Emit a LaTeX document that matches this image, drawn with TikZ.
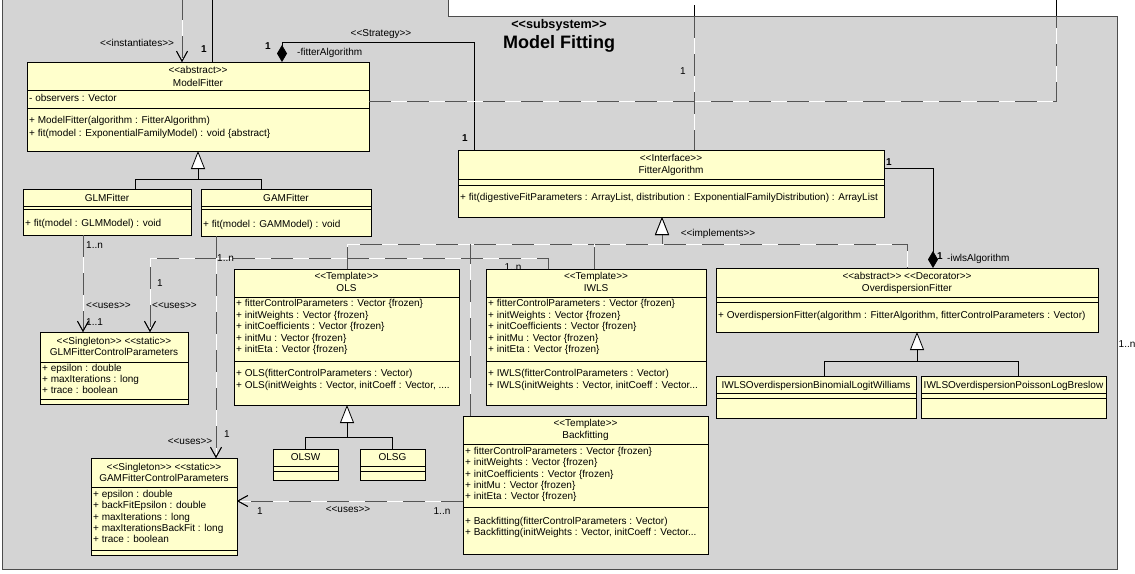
\documentclass[tikz,border=0pt]{standalone}
\usepackage{fontspec}
\setmainfont{Liberation Sans}
\usetikzlibrary{arrows.meta,shadows}
\definecolor{clsfill}{RGB}{255,255,204}
\definecolor{pkgfill}{RGB}{212,212,212}
\definecolor{dashgray}{RGB}{85,85,85}
\newcommand\st[1]{<\kern0pt<#1>\kern0pt>}
\newcommand\clsbox[5]{\node[cls, minimum width={(#4-#2)*1pt}, minimum height={(#5-#3)*1pt}] (#1) at (#2,#3) {};}
\newcommand\csep[2]{\draw[sepline] (#1.west |- 0,#2) -- (#1.east |- 0,#2);}
\newcommand\tL[4]{\node[txt, anchor=west] (#1) at (#2,#3) {#4};}
\newcommand\tC[4]{\node[txt] (#1) at (#2,#3) {#4};}
\begin{document}
\fontsize{10}{12}\selectfont
\begin{tikzpicture}[x=1pt, y=-1pt,
  cls/.style={draw=black, line width=0.8pt, fill=clsfill, anchor=north west, inner sep=0pt, outer sep=0pt,
    general shadow={fill=black!85, shadow xshift=1.2pt, shadow yshift=-1.2pt}},
  sepline/.style={draw=black, line width=0.8pt},
  txt/.style={inner sep=0pt, text height=7pt, text depth=2pt},
  bold/.style={txt, font=\bfseries},
  assoc/.style={draw=black, line width=0.8pt},
  dep/.style={draw=dashgray, line width=0.9pt, dash pattern=on 22pt off 16pt, preaction={draw=white, solid}},
  openv/.tip={Straight Barb[length=10pt, width=11pt, line width=0.8pt, color=black]},
  gentri/.tip={Triangle[length=18pt, width=14pt, color=black, fill=white, line width=0.8pt]},
  compd/.tip={Diamond[length=17pt, width=10pt, color=black, fill=black]},
]
\useasboundingbox (0,0) rectangle (1135,573);
% package
\path[draw=black!70, line width=0.8pt, fill=pkgfill] (2.5,-5) -- (2.5,569.5) -- (1117.5,569.5) -- (1117.5,16) -- (448,16) -- (448,-5) -- cycle;
\node[font=\bfseries\fontsize{12.6}{14}\selectfont, inner sep=0pt] (pkgst) at (559,25) {\st{subsystem}};
\node[font=\bfseries\fontsize{18}{20}\selectfont, inner sep=0pt] (pkgname) at (559,44) {Model Fitting};

% classes
\clsbox{mf}{27}{62}{369}{151}
\clsbox{fa}{458}{150}{884}{217}
\clsbox{glm}{23}{189}{191}{235}
\clsbox{gam}{201}{189}{371}{236}
\clsbox{glmcp}{40}{332}{188}{404}
\clsbox{gamcp}{91}{458}{237}{555}
\clsbox{ols}{234}{269}{459}{405}
\clsbox{iwls}{486}{269}{706}{405}
\clsbox{bf}{463}{416}{708}{554}
\clsbox{olsw}{273}{449}{338}{480}
\clsbox{olsg}{360}{449}{425}{480}
\clsbox{od}{716}{268}{1098}{332}
\clsbox{odb}{716}{376}{916}{418}
\clsbox{odp}{921}{376}{1106}{418}

\csep{mf}{90}\csep{mf}{108}
\csep{fa}{179}\csep{fa}{185}
\csep{glm}{206}\csep{glm}{209}
\csep{gam}{206}\csep{gam}{209}
\csep{glmcp}{362}\csep{glmcp}{399}
\csep{gamcp}{487}\csep{gamcp}{550}
\csep{ols}{297}\csep{ols}{361}
\csep{iwls}{297}\csep{iwls}{361}
\csep{bf}{444}\csep{bf}{507}
\csep{olsw}{466}\csep{olsw}{471}
\csep{olsg}{466}\csep{olsg}{471}
\csep{od}{297}\csep{od}{302}
\csep{odb}{393}\csep{odb}{398}
\csep{odp}{393}\csep{odp}{398}

% class texts
\tC{mfS}{198}{71}{\st{abstract}}
\tC{mfN}{198}{84}{ModelFitter}
\tL{mfA}{29}{99}{- observers : Vector}
\tL{mfM1}{29}{121}{+ ModelFitter(algorithm : FitterAlgorithm)}
\tL{mfM2}{29}{134}{+ fit(model : ExponentialFamilyModel) : void \{abstract\}}

\tC{faS}{671}{159}{\st{Interface}}
\tC{faN}{671}{171}{FitterAlgorithm}
\tL{faM}{460}{198}{+ fit(digestiveFitParameters : ArrayList, distribution : ExponentialFamilyDistribution) : ArrayList}

\tC{glmN}{107}{199}{GLMFitter}
\tL{glmM}{25}{224}{+ fit(model : GLMModel) : void}
\tC{gamN}{286}{199}{GAMFitter}
\tL{gamM}{203}{225}{+ fit(model : GAMModel) : void}

\tC{glmcpS}{114}{342}{\st{Singleton} \st{static}}
\tC{glmcpN}{114}{353}{GLMFitterControlParameters}
\tL{glmcpA1}{42}{369}{+ epsilon : double}
\tL{glmcpA2}{42}{380}{+ maxIterations : long}
\tL{glmcpA3}{42}{391}{+ trace : boolean}

\tC{gamcpS}{164}{468}{\st{Singleton} \st{static}}
\tC{gamcpN}{164}{479}{GAMFitterControlParameters}
\tL{gamcpA1}{93}{495}{+ epsilon : double}
\tL{gamcpA2}{93}{506}{+ backFitEpsilon : double}
\tL{gamcpA3}{93}{518}{+ maxIterations : long}
\tL{gamcpA4}{93}{529}{+ maxIterationsBackFit : long}
\tL{gamcpA5}{93}{540}{+ trace : boolean}

\tC{olsS}{346.5}{277}{\st{Template}}
\tC{olsN}{346.5}{289}{OLS}
\tL{olsA1}{236}{304}{+ fitterControlParameters : Vector \{frozen\}}
\tL{olsA2}{236}{316}{+ initWeights : Vector \{frozen\}}
\tL{olsA3}{236}{327}{+ initCoefficients : Vector \{frozen\}}
\tL{olsA4}{236}{339}{+ initMu : Vector \{frozen\}}
\tL{olsA5}{236}{350}{+ initEta : Vector \{frozen\}}
\tL{olsM1}{236}{374}{+ OLS(fitterControlParameters : Vector)}
\tL{olsM2}{236}{386}{+ OLS(initWeights : Vector, initCoeff : Vector, ....}

\tC{iwlsS}{596}{277}{\st{Template}}
\tC{iwlsN}{596}{289}{IWLS}
\tL{iwlsA1}{488}{304}{+ fitterControlParameters : Vector \{frozen\}}
\tL{iwlsA2}{488}{316}{+ initWeights : Vector \{frozen\}}
\tL{iwlsA3}{488}{327}{+ initCoefficients : Vector \{frozen\}}
\tL{iwlsA4}{488}{339}{+ initMu : Vector \{frozen\}}
\tL{iwlsA5}{488}{350}{+ initEta : Vector \{frozen\}}
\tL{iwlsM1}{488}{374}{+ IWLS(fitterControlParameters : Vector)}
\tL{iwlsM2}{488}{386}{+ IWLS(initWeights : Vector, initCoeff : Vector...}

\tC{bfS}{585.5}{424}{\st{Template}}
\tC{bfN}{585.5}{436}{Backfitting}
\tL{bfA1}{465}{452}{+ fitterControlParameters : Vector \{frozen\}}
\tL{bfA2}{465}{463}{+ initWeights : Vector \{frozen\}}
\tL{bfA3}{465}{475}{+ initCoefficients : Vector \{frozen\}}
\tL{bfA4}{465}{486}{+ initMu : Vector \{frozen\}}
\tL{bfA5}{465}{497}{+ initEta : Vector \{frozen\}}
\tL{bfM1}{465}{522}{+ Backfitting(fitterControlParameters : Vector)}
\tL{bfM2}{465}{533}{+ Backfitting(initWeights : Vector, initCoeff : Vector...}

\tC{olswN}{305.5}{458}{OLSW}
\tC{olsgN}{392.5}{458}{OLSG}

\tC{odS}{907}{277}{\st{abstract} \st{Decorator}}
\tC{odN}{907}{289}{OverdispersionFitter}
\tL{odM}{718}{316}{+ OverdispersionFitter(algorithm : FitterAlgorithm, fitterControlParameters : Vector)}
\tC{odbN}{816}{386}{IWLSOverdispersionBinomialLogitWilliams}
\tC{odpN}{1013.5}{386}{IWLSOverdispersionPoissonLogBreslow}

% connectors
\coordinate (inst) at (182,-2);
\draw[dep, -openv] (inst) -- (inst |- mf.north);
\coordinate (ext212) at (212,-2);
\draw[assoc] (ext212) -- (ext212 |- mf.north);
\draw[assoc, compd-] (mf.north -| 282,0) |- (474,42) -- (fa.north -| 474,0);
\coordinate (ext694) at (694,5);
\coordinate (pk694) at (694,16);
\draw[assoc] (ext694) -- (pk694);
\draw[dep] (pk694) -- (fa.north -| 694,0);
\coordinate (pk1056) at (1056,16);
\coordinate (ext1056) at (1056,-2);
\draw[dep] (mf.east |- 0,101) -| (pk1056);
\draw[assoc] (pk1056) -- (ext1056);
\draw[assoc, -compd] (fa.east |- 0,168) -| (od.north -| 933,0);

\coordinate (impl) at (662,244);
\draw[dep] (ols.north -| 347,0) -- (347,244) -- (907,244) -- (od.north -| 907,0);
\draw[dep] (bf.north -| 470,0) -- (470,244);
\draw[dep] (iwls.north -| 594,0) -- (594,244);
\draw[dep, -gentri] (impl) -- (fa.south -| impl);

\draw[dep, -openv] (glm.south -| 83,0) -- (glmcp.north -| 83,0);
\draw[dep, -openv] (iwls.north -| 548,0) -- (548,258) -- (150,258) -- (glmcp.north -| 150,0);
\draw[dep, -openv] (gam.south -| 216,0) -- (gamcp.north -| 216,0);
\draw[dep, -openv] (bf.west |- 0,501) -- (gamcp.east |- 0,501);

\draw[assoc, -gentri] (glm.north -| 135,0) |- (198,179) -- (mf.south -| 198,0);
\draw[assoc] (gam.north -| 261,0) |- (198,179);
\draw[assoc, -gentri] (olsw.north) |- (347,437) -- (ols.south -| 347,0);
\draw[assoc] (olsg.north) |- (347,437);
\draw[assoc, -gentri] (odb.north -| 824,0) |- (917,361) -- (od.south -| 917,0);
\draw[assoc] (odp.north -| 1018,0) |- (917,361);

% labels
\tC{lInst}{137}{44}{\st{instantiates}}
\node[bold] (l1a) at (204,50) {1};
\node[bold] (l1b) at (268,47) {1};
\tC{lStrat}{381}{34}{\st{Strategy}}
\tL{lFA}{297}{53}{-fitterAlgorithm}
\tC{l1c}{683}{72}{1}
\node[bold] (l1d) at (465,139) {1};
\tC{lImpl}{718}{234}{\st{implements}}
\node[bold] (l1e) at (889,163) {1};
\node[bold] (l1f) at (940,257) {1};
\tL{lIwls}{947}{259}{-iwlsAlgorithm}
\tL{lGlmN}{86}{246}{1..n}
\tL{lGlmU}{86}{306}{\st{uses}}
\tL{lGlm11}{86}{323}{1..1}
\tC{l1g}{160}{284}{1}
\tL{lIwU}{152}{306}{\st{uses}}
\tL{lGamN}{217}{259}{1..n}
\tC{lIwN}{513}{268}{1..n}
\tC{lGamU}{190}{442}{\st{uses}}
\tC{l1h}{227}{435}{1}
\tC{l1i}{260}{512}{1}
\tC{lBfU}{348}{510}{\st{uses}}
\tC{lBfN}{442}{512}{1..n}
\tL{lRight}{1118.5}{345}{1..n}
\end{tikzpicture}
\end{document}
